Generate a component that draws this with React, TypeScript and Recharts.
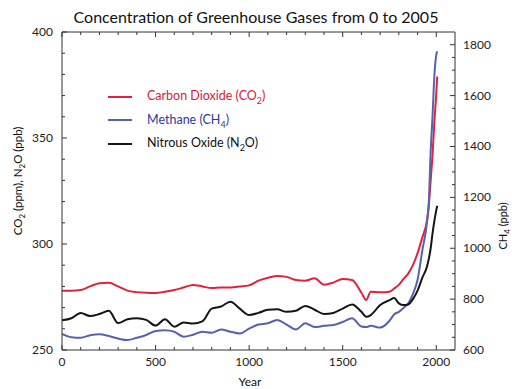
import { LineChart, Line, XAxis, YAxis, Legend } from "recharts";

// ice core / atmospheric record
const years = [
  0, 50, 100, 150, 200, 250, 300, 350, 400, 450, 500, 550, 600, 650, 700, 750,
  800, 850, 900, 950, 1000, 1050, 1100, 1150, 1200, 1250, 1300, 1350, 1400, 1450,
  1500, 1550, 1600, 1625, 1650, 1700, 1750, 1775, 1800, 1825, 1850, 1875, 1900,
  1925, 1950, 1960, 1970, 1980, 1990, 2000, 2005,
];
const co2 = [
  278, 278, 278.3, 280, 281.5, 281.7, 280, 278, 277.3, 277, 276.9, 277.5, 278.3, 279.5, 280.7, 280,
  279.2, 279.5, 279.5, 279.9, 280.5, 282.7, 284, 284.9, 284.5, 283, 282.7, 283.8, 280.8, 281.8,
  283.5, 283, 277, 273.6, 277.5, 277.2, 277.5, 279, 280.7, 283.5, 286, 290, 295.7,
  303, 311, 318, 330, 342, 358, 371, 379,
];
const ch4 = [
  663, 650, 648, 658, 662, 655, 645, 639, 648, 659, 675, 678, 672, 652, 660, 672,
  668, 681, 672, 665, 684, 700, 705, 718, 700, 681, 705, 690, 695, 698,
  710, 725, 692, 690, 695, 688, 715, 740, 750, 765, 784, 820, 876,
  990, 1100, 1180, 1380, 1520, 1680, 1760, 1774,
];
const n2o = [
  264, 265, 267.5, 266, 267, 268.5, 262.7, 264.5, 265, 264.2, 261.5, 264.5, 261, 263, 262.5, 263.5,
  269.5, 270.5, 272.8, 269.5, 266.5, 267.5, 269, 269.2, 268, 268.5, 270.8, 269, 267, 267.5,
  269.5, 271.5, 268, 265.7, 266.5, 271.2, 273.5, 274.5, 272, 271.2, 271.5, 274, 278,
  284, 289.3, 293, 298, 305, 311, 316, 318,
];

const xTicks = [
  0, 100, 200, 300, 400, 500, 600, 700, 800, 900, 1000,
  1100, 1200, 1300, 1400, 1500, 1600, 1700, 1800, 1900, 2000,
];
const xLabels = [0, 500, 1000, 1500, 2000];
const leftTicks = [250, 260, 270, 280, 290, 300, 310, 320, 330, 340, 350, 360, 370, 380, 390, 400];
const leftLabels = [250, 300, 350, 400];
const rightTicks = [
  600, 650, 700, 750, 800, 850, 900, 950, 1000, 1050, 1100, 1150, 1200,
  1250, 1300, 1350, 1400, 1450, 1500, 1550, 1600, 1650, 1700, 1750, 1800,
];
const rightLabels = [600, 800, 1000, 1200, 1400, 1600, 1800];

const RED = "#e0223c";
const BLUE = "#5662ae";
const BLACK = "#151515";
const AXIS = "#333";
const FONT = "Lato, 'Open Sans', sans-serif";

const data = years.map((year, i) => ({ year, co2: co2[i], ch4: ch4[i], n2o: n2o[i] }));

const legendItems = [
  { key: "co2", color: RED, text: "#d42238", label: "Carbon Dioxide (CO", sub: "2" },
  { key: "ch4", color: BLUE, text: "#2e3a92", label: "Methane (CH", sub: "4" },
  { key: "n2o", color: BLACK, text: "#111", label: "Nitrous Oxide (N", sub: "2", tail: "O" },
];

const tickText = { fontFamily: FONT, fontSize: 12, fill: "#222" };

const BottomTick = (props: any) => {
  const { x, y, payload } = props;
  const major = xLabels.includes(payload.value);
  return (
    <g>
      <line x1={x} x2={x} y1={y} y2={y - (major ? 5 : 3)} stroke={AXIS} />
      {major && (
        <text x={x} y={y + 16} textAnchor="middle" {...tickText}>{payload.value}</text>
      )}
    </g>
  );
};

const TopTick = (props: any) => {
  const { x, y, payload } = props;
  const major = xLabels.includes(payload.value);
  return <line x1={x} x2={x} y1={y} y2={y + (major ? 5 : 3)} stroke={AXIS} />;
};

const LeftTick = (props: any) => {
  const { x, y, payload } = props;
  const major = leftLabels.includes(payload.value);
  return (
    <g>
      <line x1={x} x2={x + (major ? 5 : 3)} y1={y} y2={y} stroke={AXIS} />
      {major && (
        <text x={x - 9} y={y + 4} textAnchor="end" {...tickText}>{payload.value}</text>
      )}
    </g>
  );
};

const RightTick = (props: any) => {
  const { x, y, payload } = props;
  const major = rightLabels.includes(payload.value);
  return (
    <g>
      <line x1={x} x2={x - (major ? 5 : 3)} y1={y} y2={y} stroke={AXIS} />
      {major && (
        <text x={x + 8} y={y + 4} textAnchor="start" {...tickText}>{payload.value}</text>
      )}
    </g>
  );
};

const renderLegend = () => (
  <div style={{ fontFamily: FONT, fontSize: 12.5 }}>
    {legendItems.map(item => (
      <div key={item.key} style={{ display: "flex", alignItems: "center", height: 23.5 }}>
        <svg width={47} height={4} style={{ display: "block", flex: "none" }}>
          <line x1={8} x2={32} y1={2} y2={2} stroke={item.color} strokeWidth={2} />
        </svg>
        <span style={{ color: item.text, whiteSpace: "nowrap" }}>
          {item.label}
          <sub style={{ fontSize: 9 }}>{item.sub}</sub>
          {item.tail ?? ""})
        </span>
      </div>
    ))}
  </div>
);

export default function App() {
  return (
    <div
      style={{
        position: "fixed",
        left: 0,
        top: 0,
        width: 512,
        height: 389,
        fontFamily: FONT,
        background: "#fff",
      }}
    >
      <LineChart
        width={512}
        height={389}
        data={data}
        margin={{ top: 28, right: 17, bottom: 9, left: 22 }}
      >
        <XAxis
          dataKey="year"
          type="number"
          domain={[0, 2100]}
          ticks={xTicks}
          interval={0}
          allowDataOverflow
          height={30}
          tickSize={0}
          tickMargin={0}
          tickLine={false}
          axisLine={{ stroke: AXIS }}
          tick={BottomTick}
        />
        <XAxis
          xAxisId="top"
          orientation="top"
          dataKey="year"
          type="number"
          domain={[0, 2100]}
          ticks={xTicks}
          interval={0}
          allowDataOverflow
          height={4}
          tickSize={0}
          tickMargin={0}
          tickLine={false}
          axisLine={{ stroke: AXIS }}
          tick={TopTick}
        />
        <YAxis
          yAxisId="left"
          type="number"
          domain={[250, 400]}
          ticks={leftTicks}
          interval={0}
          allowDataOverflow
          width={40}
          tickSize={0}
          tickMargin={0}
          tickLine={false}
          axisLine={{ stroke: AXIS }}
          tick={LeftTick}
        />
        <YAxis
          yAxisId="right"
          orientation="right"
          type="number"
          domain={[600, 1850]}
          ticks={rightTicks}
          interval={0}
          allowDataOverflow
          width={40}
          tickSize={0}
          tickMargin={0}
          tickLine={false}
          axisLine={{ stroke: AXIS }}
          tick={RightTick}
        />
        <Legend
          layout="vertical"
          align="center"
          verticalAlign="middle"
          content={renderLegend}
          wrapperStyle={{ left: 100, top: 85, width: 240, height: 72 }}
        />
        <Line yAxisId="left" dataKey="co2" type="monotone" stroke={RED} strokeWidth={2} dot={false} isAnimationActive={false} />
        <Line yAxisId="right" dataKey="ch4" type="monotone" stroke={BLUE} strokeWidth={2} dot={false} isAnimationActive={false} />
        <Line yAxisId="left" dataKey="n2o" type="monotone" stroke={BLACK} strokeWidth={2} dot={false} isAnimationActive={false} />
      </LineChart>
      <svg
        width={512}
        height={389}
        style={{ position: "absolute", left: 0, top: 0, pointerEvents: "none" }}
      >
        <text x={256} y={23} textAnchor="middle" fontSize={16} fill="#111" fontFamily={FONT}>
          Concentration of Greenhouse Gases from 0 to 2005
        </text>
        <text
          transform="translate(22, 181) rotate(-90)"
          textAnchor="middle"
          fontSize={11.5}
          fill="#111"
          fontFamily={FONT}
        >
          <tspan>CO</tspan>
          <tspan dy={3} fontSize={8}>2</tspan>
          <tspan dy={-3}> (ppm), N</tspan>
          <tspan dy={3} fontSize={8}>2</tspan>
          <tspan dy={-3}>O (ppb)</tspan>
        </text>
        <text
          transform="translate(507, 226) rotate(-90)"
          textAnchor="middle"
          fontSize={11}
          fill="#111"
          fontFamily={FONT}
        >
          <tspan>CH</tspan>
          <tspan dy={3} fontSize={8}>4</tspan>
          <tspan dy={-3}> (ppb)</tspan>
        </text>
        <text x={250} y={386} textAnchor="middle" fontSize={12} fill="#111" fontFamily={FONT}>
          Year
        </text>
      </svg>
    </div>
  );
}
